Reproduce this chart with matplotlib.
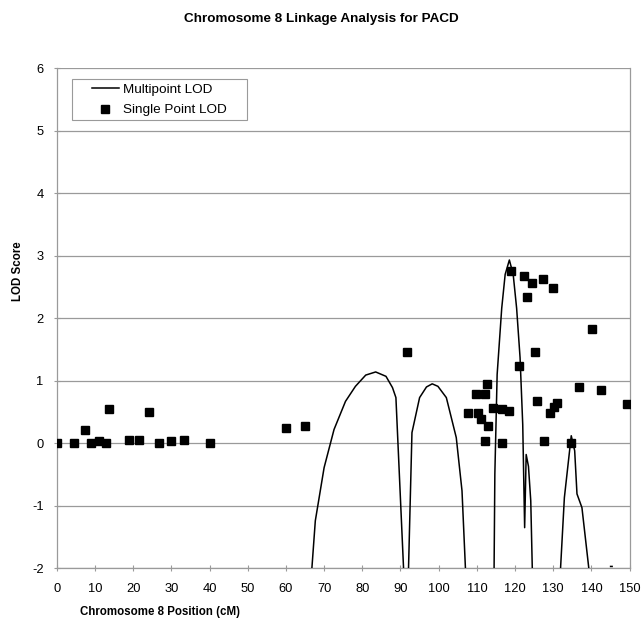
import numpy as np
import matplotlib
matplotlib.use('Agg')
from matplotlib import pyplot as plt
from matplotlib.patches import Rectangle

plt.rcParams['font.family'] = ['Liberation Sans', 'DejaVu Sans']
plt.rcParams['axes.unicode_minus'] = False

# single point LOD scores (position cM, LOD)
single_pos = [0.0, 4.5, 7.4, 8.9, 11.0, 13.0, 13.8, 18.9, 21.5, 24.2, 26.8, 30.0, 33.4, 40.1,
              60.0, 65.0, 91.6, 107.7, 109.7, 110.4, 111.1, 112.0, 112.6, 113.0, 112.0,
              114.1, 116.5, 116.7, 118.4, 118.9, 121.0, 122.3, 123.0, 124.3, 125.1, 125.8,
              127.2, 127.6, 129.1, 130.0, 130.3, 131.1, 134.7, 136.6, 140.1, 142.6, 149.3]
single_lod = [0.0, 0.0, 0.21, 0.0, 0.03, 0.0, 0.55, 0.05, 0.05, 0.50, 0.0, 0.03, 0.05, 0.0,
              0.25, 0.28, 1.46, 0.48, 0.78, 0.48, 0.38, 0.78, 0.94, 0.28, 0.03,
              0.57, 0.0, 0.55, 0.52, 2.76, 1.24, 2.67, 2.34, 2.57, 1.46, 0.67,
              2.62, 0.04, 0.48, 2.49, 0.58, 0.65, 0.0, 0.90, 1.83, 0.85, 0.63]

# multipoint LOD curve, only the parts above -2 (nan = gap)
multi_pos = [66.8, 67.7, 70.0, 72.6, 75.6, 78.2, 80.9, 83.5, 86.2, 87.9, 88.8, 90.8, np.nan,
             92.1, 93.0, 95.0, 96.8, 98.3, 99.8, 102.0, 104.6, 106.1, 107.0, np.nan,
             114.5, 114.7, 115.3, 116.5, 117.4, 118.5, 119.5, 120.4, 121.3, 122.0, 122.5,
             122.9, 123.5, 124.1, 124.5, np.nan,
             131.9, 132.9, 134.7, 135.6, 136.2, 137.5, 139.3, np.nan,
             145.0, 145.4]
multi_lod = [-2.0, -1.24, -0.39, 0.22, 0.67, 0.91, 1.09, 1.14, 1.07, 0.89, 0.73, -2.0, np.nan,
             -2.0, 0.17, 0.73, 0.90, 0.95, 0.91, 0.73, 0.09, -0.76, -2.0, np.nan,
             -2.0, -0.49, 1.10, 2.16, 2.70, 2.93, 2.70, 2.16, 1.37, 0.30, -1.35,
             -0.18, -0.37, -0.92, -2.0, np.nan,
             -2.0, -0.87, 0.12, -0.12, -0.81, -1.03, -2.0, np.nan,
             -1.97, -1.97]

fig = plt.figure(figsize=(6.43, 6.27), dpi=100)
ax = fig.add_axes([0.0882, 0.0936, 0.8911, 0.7979])

ax.plot(multi_pos, multi_lod, color='black', lw=1.1, label='Multipoint LOD', zorder=3)
ax.plot(single_pos, single_lod, ls='none', marker='s', ms=6.3, color='black',
        label='Single Point LOD', zorder=4)

ax.set_xlim(0, 150)
ax.set_ylim(-2, 6)
ax.set_xticks(np.arange(0, 151, 10))
ax.set_yticks(np.arange(-2, 7, 1))
ax.grid(axis='y', color='#9a9a9a', lw=0.9)
ax.set_axisbelow(True)
for s in ['left', 'bottom', 'right']:
    ax.spines[s].set_color('#9a9a9a')
    ax.spines[s].set_linewidth(0.9)
ax.spines['top'].set_visible(False)
ax.tick_params(axis='both', color='#9a9a9a', direction='inout', length=5, width=0.8,
               labelsize=9.3)
ax.tick_params(axis='y', pad=7)
ax.tick_params(axis='x', pad=8)

fig.text(0.5, 0.969, 'Chromosome 8 Linkage Analysis for PACD', ha='center', va='center',
         fontsize=9.7, fontweight='bold')
fig.text(0.249, 0.024, 'Chromosome 8 Position (cM)', ha='center', va='center',
         fontsize=8.3, fontweight='bold')
fig.text(0.028, 0.568, 'LOD Score', ha='center', va='center', rotation=90,
         fontsize=8.3, fontweight='bold')

leg = ax.legend(loc='upper left', bbox_to_anchor=(91.7 / 643, 1 - 83.5 / 627),
                bbox_transform=fig.transFigure, borderaxespad=0, borderpad=0,
                frameon=False, fontsize=9.7, handlelength=2.0, handletextpad=0.3,
                labelspacing=0.6)
fig.add_artist(Rectangle((72.3 / 643, 1 - 120 / 627), 174.4 / 643, 41 / 627,
                         transform=fig.transFigure, fill=False, edgecolor='#9a9a9a', lw=0.8))

fig.savefig('out.png', dpi=100)
